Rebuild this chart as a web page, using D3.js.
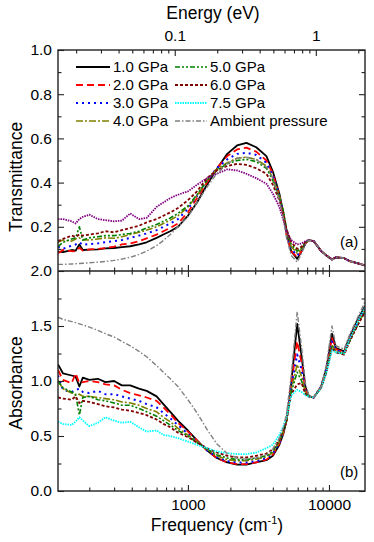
<!DOCTYPE html>
<html>
<head>
<meta charset="utf-8">
<script src="https://cdn.jsdelivr.net/npm/d3@7"></script>
<style>
body { margin: 0; background: #fff; }
text { font-family: "Liberation Sans", Arial, sans-serif; fill: #000; }
</style>
</head>
<body>
<svg id="chart" width="374" height="542"></svg>
<script>
// frequency grid, cm^-1
var freq = [120, 130, 150, 160, 170, 180, 200, 230, 260, 300, 340, 390, 450, 510, 600, 670, 750, 850,
	1000, 1160, 1365, 1600, 1900, 2230, 2600, 3050, 3600, 4000, 4450, 4750, 5000, 5400, 5950, 6400,
	6800, 7200, 7800, 8800, 9600, 10500, 11200, 12800, 14000, 16000, 18000];

var seriesNames = ['1.0 GPa', '2.0 GPa', '3.0 GPa', '4.0 GPa', '5.0 GPa', '6.0 GPa', '7.5 GPa', 'Ambient pressure'];

// (a) transmittance
var trans10 = [0.088, 0.085, 0.095, 0.092, 0.12, 0.095, 0.097, 0.098, 0.102, 0.104, 0.108, 0.112, 0.12, 0.13, 0.15, 0.165, 0.18, 0.20,
	0.25, 0.31, 0.39, 0.46, 0.53, 0.568, 0.58, 0.56, 0.52, 0.45, 0.35, 0.26, 0.17, 0.09, 0.055, 0.09,
	0.125, 0.14, 0.135, 0.09, 0.07, 0.052, 0.062, 0.058, 0.045, 0.035, 0.025];
var trans20 = [0.08, 0.095, 0.09, 0.088, 0.105, 0.092, 0.098, 0.10, 0.104, 0.11, 0.12, 0.125, 0.135, 0.148, 0.165, 0.18, 0.195, 0.215,
	0.265, 0.33, 0.40, 0.465, 0.52, 0.55, 0.558, 0.54, 0.50, 0.44, 0.34, 0.25, 0.165, 0.09, 0.062, 0.09,
	0.125, 0.14, 0.135, 0.09, 0.07, 0.052, 0.062, 0.058, 0.045, 0.035, 0.025];
var trans30 = [0.11, 0.10, 0.115, 0.12, 0.13, 0.118, 0.122, 0.125, 0.13, 0.135, 0.14, 0.15, 0.16, 0.17, 0.185, 0.20, 0.215, 0.235,
	0.28, 0.34, 0.41, 0.465, 0.505, 0.53, 0.535, 0.525, 0.49, 0.43, 0.34, 0.26, 0.17, 0.10, 0.07, 0.095,
	0.125, 0.14, 0.135, 0.09, 0.07, 0.052, 0.062, 0.058, 0.045, 0.035, 0.025];
var trans40 = [0.13, 0.14, 0.135, 0.145, 0.15, 0.14, 0.14, 0.145, 0.15, 0.148, 0.155, 0.165, 0.175, 0.185, 0.20, 0.215, 0.23, 0.25,
	0.29, 0.34, 0.41, 0.46, 0.49, 0.51, 0.515, 0.505, 0.475, 0.42, 0.34, 0.27, 0.18, 0.11, 0.08, 0.10,
	0.127, 0.14, 0.135, 0.09, 0.07, 0.052, 0.062, 0.058, 0.045, 0.035, 0.025];
var trans50 = [0.11, 0.13, 0.145, 0.15, 0.20, 0.14, 0.15, 0.155, 0.16, 0.16, 0.165, 0.17, 0.18, 0.195, 0.21, 0.225, 0.24, 0.26,
	0.295, 0.345, 0.41, 0.455, 0.485, 0.50, 0.505, 0.495, 0.465, 0.41, 0.33, 0.27, 0.19, 0.12, 0.09, 0.105,
	0.128, 0.14, 0.135, 0.09, 0.07, 0.052, 0.062, 0.058, 0.045, 0.035, 0.025];
var trans60 = [0.135, 0.145, 0.16, 0.155, 0.165, 0.16, 0.165, 0.17, 0.18, 0.175, 0.185, 0.195, 0.205, 0.22, 0.235, 0.25, 0.265, 0.285,
	0.32, 0.36, 0.42, 0.455, 0.475, 0.485, 0.48, 0.465, 0.44, 0.39, 0.32, 0.26, 0.19, 0.13, 0.10, 0.11,
	0.13, 0.14, 0.135, 0.09, 0.07, 0.052, 0.062, 0.058, 0.045, 0.035, 0.025];
var trans75 = [0.235, 0.235, 0.225, 0.215, 0.235, 0.245, 0.255, 0.235, 0.23, 0.225, 0.228, 0.26, 0.235, 0.24, 0.29, 0.31, 0.33, 0.345,
	0.36, 0.39, 0.42, 0.44, 0.46, 0.455, 0.44, 0.42, 0.395, 0.35, 0.29, 0.23, 0.18, 0.14, 0.12, 0.125,
	0.135, 0.14, 0.135, 0.09, 0.07, 0.052, 0.062, 0.058, 0.045, 0.035, 0.025];
var transAmb = [0.03, 0.03, 0.032, 0.033, 0.034, 0.035, 0.037, 0.040, 0.043, 0.048, 0.054, 0.062, 0.075, 0.09, 0.115, 0.138, 0.165, 0.20,
	0.245, 0.31, 0.38, 0.44, 0.485, 0.51, 0.515, 0.505, 0.47, 0.42, 0.32, 0.24, 0.15, 0.07, 0.04, 0.08,
	0.12, 0.14, 0.135, 0.09, 0.07, 0.05, 0.062, 0.058, 0.045, 0.035, 0.025];

// (b) absorbance
var abs10 = [1.15, 1.07, 1.05, 1.04, 0.95, 1.03, 1.01, 1.02, 0.99, 1.00, 0.96, 0.96, 0.93, 0.91, 0.86, 0.79, 0.72, 0.64,
	0.55, 0.46, 0.37, 0.30, 0.26, 0.24, 0.24, 0.26, 0.28, 0.32, 0.42, 0.52, 0.64, 0.98, 1.52, 1.22,
	0.95, 0.86, 0.85, 0.95, 1.12, 1.43, 1.30, 1.27, 1.40, 1.56, 1.68];
var abs20 = [1.10, 1.01, 0.98, 1.07, 0.98, 0.99, 1.00, 0.99, 0.97, 0.96, 0.92, 0.89, 0.87, 0.85, 0.82, 0.76, 0.70, 0.62,
	0.54, 0.46, 0.37, 0.30, 0.26, 0.245, 0.245, 0.26, 0.285, 0.33, 0.43, 0.53, 0.64, 0.96, 1.36, 1.16,
	0.92, 0.86, 0.85, 0.95, 1.12, 1.39, 1.29, 1.26, 1.38, 1.54, 1.66];
var abs30 = [1.05, 0.92, 0.90, 0.92, 0.93, 0.90, 0.89, 0.91, 0.88, 0.88, 0.86, 0.84, 0.82, 0.79, 0.76, 0.71, 0.66, 0.60,
	0.52, 0.45, 0.37, 0.31, 0.27, 0.26, 0.26, 0.27, 0.30, 0.34, 0.44, 0.54, 0.65, 0.94, 1.24, 1.10,
	0.91, 0.86, 0.85, 0.95, 1.11, 1.36, 1.28, 1.26, 1.38, 1.53, 1.65];
var abs40 = [1.00, 0.93, 0.89, 0.87, 0.88, 0.86, 0.86, 0.85, 0.84, 0.83, 0.81, 0.80, 0.78, 0.75, 0.72, 0.67, 0.63, 0.57,
	0.51, 0.45, 0.38, 0.32, 0.285, 0.275, 0.275, 0.29, 0.31, 0.35, 0.45, 0.54, 0.64, 0.92, 1.15, 1.04,
	0.90, 0.86, 0.85, 0.94, 1.10, 1.33, 1.27, 1.25, 1.37, 1.52, 1.64];
var abs50 = [1.00, 0.94, 0.90, 0.88, 0.69, 0.85, 0.86, 0.83, 0.82, 0.80, 0.78, 0.78, 0.75, 0.72, 0.68, 0.64, 0.60, 0.55,
	0.50, 0.44, 0.38, 0.33, 0.30, 0.285, 0.285, 0.30, 0.32, 0.36, 0.46, 0.55, 0.64, 0.90, 1.08, 1.00,
	0.89, 0.86, 0.85, 0.94, 1.09, 1.31, 1.26, 1.25, 1.36, 1.51, 1.63];
var abs60 = [0.85, 0.84, 0.83, 0.86, 0.80, 0.82, 0.81, 0.79, 0.77, 0.76, 0.74, 0.73, 0.71, 0.69, 0.65, 0.61, 0.58, 0.53,
	0.49, 0.44, 0.39, 0.35, 0.32, 0.305, 0.305, 0.32, 0.34, 0.38, 0.47, 0.56, 0.65, 0.88, 0.97, 0.98,
	0.88, 0.86, 0.85, 0.94, 1.08, 1.30, 1.26, 1.24, 1.36, 1.51, 1.63];
var abs75 = [0.63, 0.61, 0.60, 0.63, 0.67, 0.64, 0.59, 0.62, 0.67, 0.64, 0.62, 0.63, 0.58, 0.54, 0.55, 0.51, 0.50, 0.48,
	0.45, 0.42, 0.39, 0.36, 0.345, 0.335, 0.335, 0.35, 0.39, 0.42, 0.51, 0.59, 0.67, 0.87, 0.92, 0.90,
	0.87, 0.86, 0.85, 0.94, 1.08, 1.28, 1.26, 1.25, 1.38, 1.54, 1.67];
var absAmb = [1.58, 1.56, 1.54, 1.53, 1.52, 1.51, 1.49, 1.46, 1.43, 1.40, 1.36, 1.32, 1.27, 1.22, 1.14, 1.08, 1.02, 0.95,
	0.83, 0.71, 0.56, 0.43, 0.34, 0.30, 0.29, 0.30, 0.33, 0.38, 0.48, 0.58, 0.70, 1.05, 1.63, 1.30,
	0.98, 0.87, 0.85, 0.95, 1.15, 1.50, 1.32, 1.29, 1.42, 1.58, 1.72];

var transSeries = [trans10, trans20, trans30, trans40, trans50, trans60, trans75, transAmb];
var absSeries = [abs10, abs20, abs30, abs40, abs50, abs60, abs75, absAmb];

// tick values
var freqMajor = [1000, 10000];
var freqMinor = [200, 300, 400, 500, 600, 700, 800, 900, 2000, 3000, 4000, 5000, 6000, 7000, 8000, 9000];
var energyMajor = [0.1, 1];
var energyMinor = [0.02, 0.03, 0.04, 0.05, 0.06, 0.07, 0.08, 0.09, 0.2, 0.3, 0.4, 0.5, 0.6, 0.7, 0.8, 0.9, 2];
var transMajor = [0.2, 0.4, 0.6, 0.8, 1.0];
var transMinor = [0.1, 0.3, 0.5, 0.7, 0.9];
var absMajor = [0.0, 0.5, 1.0, 1.5, 2.0];
var absMinor = [0.25, 0.75, 1.25, 1.75];

var cmPerEV = 8065.54;

// styles
var styles = [
	{ color: '#000000', dash: null, width: 1.8 },
	{ color: '#ff0000', dash: '7,4', width: 1.8 },
	{ color: '#0000ff', dash: '2,4', width: 2 },
	{ color: '#808000', dash: '7,2,2,2', width: 1.6 },
	{ color: '#008000', dash: '5,2,2,2,2,2', width: 1.6 },
	{ color: '#800000', dash: '3,2', width: 1.8 },
	{ color: '#00ffff', dash: '1.5,1', width: 1.8 },
	{ color: '#808080', dash: '5,2,1.5,2', width: 1.4 }
];
var purple = '#800080';

var plot = { left: 58, right: 365, top: 50, mid: 271, bottom: 491 };

var svg = d3.select('#chart');

var x = d3.scaleLog().domain([120, 18000]).range([plot.left, plot.right]);
var xE = d3.scaleLog().domain([120 / cmPerEV, 18000 / cmPerEV]).range([plot.left, plot.right]);
var yT = d3.scaleLinear().domain([0, 1]).range([plot.mid, plot.top]);
var yA = d3.scaleLinear().domain([0, 2]).range([plot.bottom, plot.mid]);

// clip
var defs = svg.append('defs');
defs.append('clipPath').attr('id', 'clipT').append('rect')
	.attr('x', plot.left).attr('y', plot.top).attr('width', plot.right - plot.left).attr('height', plot.mid - plot.top);
defs.append('clipPath').attr('id', 'clipA').append('rect')
	.attr('x', plot.left).attr('y', plot.mid).attr('width', plot.right - plot.left).attr('height', plot.bottom - plot.mid);

function drawLines(series, yScale, clip, topPanel) {
	var g = svg.append('g').attr('clip-path', 'url(#' + clip + ')');
	series.forEach(function(vals, i) {
		var line = d3.line()
			.x(function(d, j) { return x(freq[j]); })
			.y(function(d) { return yScale(d); });
		var st = styles[i];
		var col = (topPanel && i == 6) ? purple : st.color;
		g.append('path')
			.datum(vals)
			.attr('d', line)
			.attr('fill', 'none')
			.attr('stroke', col)
			.attr('stroke-width', st.width)
			.attr('stroke-dasharray', st.dash)
			.attr('stroke-linejoin', 'round');
	});
}
drawLines(transSeries, yT, 'clipT', true);
drawLines(absSeries, yA, 'clipA', false);

// axes
function styleAxis(g) {
	g.select('.domain').remove();
	g.selectAll('.tick line').attr('stroke', '#222').attr('stroke-width', 1.1);
	g.selectAll('.tick text').attr('font-size', '15.5px').attr('font-family', '"Liberation Sans", Arial, sans-serif').attr('fill', '#000');
}

// bottom frequency axis
svg.append('g').attr('transform', 'translate(0,' + plot.bottom + ')')
	.call(d3.axisBottom(x).tickValues(freqMajor).tickSize(-6).tickPadding(8).tickFormat(d3.format('d')))
	.call(styleAxis);
svg.append('g').attr('transform', 'translate(0,' + plot.bottom + ')')
	.call(d3.axisBottom(x).tickValues(freqMinor).tickSize(-3.5).tickFormat(''))
	.call(styleAxis);

// middle line: ticks both sides
[[-6, -3.5], [6, 3.5]].forEach(function(s) {
	svg.append('g').attr('transform', 'translate(0,' + plot.mid + ')')
		.call(d3.axisBottom(x).tickValues(freqMajor).tickSize(s[0]).tickFormat(''))
		.call(styleAxis);
	svg.append('g').attr('transform', 'translate(0,' + plot.mid + ')')
		.call(d3.axisBottom(x).tickValues(freqMinor).tickSize(s[1]).tickFormat(''))
		.call(styleAxis);
});

// top energy axis
svg.append('g').attr('transform', 'translate(0,' + plot.top + ')')
	.call(d3.axisTop(xE).tickValues(energyMajor).tickSize(-6).tickPadding(9).tickFormat(d3.format('')))
	.call(styleAxis);
svg.append('g').attr('transform', 'translate(0,' + plot.top + ')')
	.call(d3.axisTop(xE).tickValues(energyMinor).tickSize(-3.5).tickFormat(''))
	.call(styleAxis);

// left / right y axes
function yAxes(scale, major, minor, labels) {
	svg.append('g').attr('transform', 'translate(' + plot.left + ',0)')
		.call(d3.axisLeft(scale).tickValues(labels).tickSize(-6).tickPadding(6).tickFormat(d3.format('.1f')))
		.call(styleAxis);
	svg.append('g').attr('transform', 'translate(' + plot.left + ',0)')
		.call(d3.axisLeft(scale).tickValues(minor).tickSize(-3.5).tickFormat(''))
		.call(styleAxis);
	svg.append('g').attr('transform', 'translate(' + plot.right + ',0)')
		.call(d3.axisRight(scale).tickValues(major).tickSize(-6).tickFormat(''))
		.call(styleAxis);
	svg.append('g').attr('transform', 'translate(' + plot.right + ',0)')
		.call(d3.axisRight(scale).tickValues(minor).tickSize(-3.5).tickFormat(''))
		.call(styleAxis);
}
yAxes(yT, transMajor, transMinor, transMajor);
yAxes(yA, absMajor, absMinor, absMajor);

// frame
svg.append('rect')
	.attr('x', plot.left).attr('y', plot.top)
	.attr('width', plot.right - plot.left).attr('height', plot.bottom - plot.top)
	.attr('fill', 'none').attr('stroke', '#222').attr('stroke-width', 1.4);
svg.append('line')
	.attr('x1', plot.left).attr('x2', plot.right).attr('y1', plot.mid).attr('y2', plot.mid)
	.attr('stroke', '#222').attr('stroke-width', 1.4);

// titles
svg.append('text').attr('x', 213).attr('y', 19).attr('text-anchor', 'middle')
	.attr('font-size', '17.5px').text('Energy (eV)');
var ft = svg.append('text').attr('x', 217).attr('y', 531).attr('text-anchor', 'middle').attr('font-size', '17.5px');
ft.append('tspan').text('Frequency (cm');
ft.append('tspan').attr('font-size', '11px').attr('dy', -7).text('-1');
ft.append('tspan').attr('dy', 7).text(')');
svg.append('text').attr('transform', 'translate(22,177) rotate(-90)').attr('text-anchor', 'middle')
	.attr('font-size', '17.5px').text('Transmittance');
svg.append('text').attr('transform', 'translate(22,383) rotate(-90)').attr('text-anchor', 'middle')
	.attr('font-size', '17.5px').text('Absorbance');
svg.append('text').attr('x', 340).attr('y', 247).attr('font-size', '15px').text('(a)');
svg.append('text').attr('x', 340).attr('y', 477).attr('font-size', '15px').text('(b)');

// legend
var legend = svg.append('g');
seriesNames.forEach(function(name, i) {
	var col = Math.floor(i / 4), row = i % 4;
	var lx = col == 0 ? 76 : 175;
	var lw = col == 0 ? 34 : 32;
	var ly = 67 + row * 18;
	var st = styles[i];
	legend.append('line')
		.attr('x1', lx).attr('x2', lx + lw).attr('y1', ly).attr('y2', ly)
		.attr('stroke', st.color).attr('stroke-width', st.width)
		.attr('stroke-dasharray', st.dash);
	legend.append('text').attr('x', lx + lw + 3).attr('y', ly + 5)
		.attr('font-size', '15px').text(name);
});
</script>
</body>
</html>
